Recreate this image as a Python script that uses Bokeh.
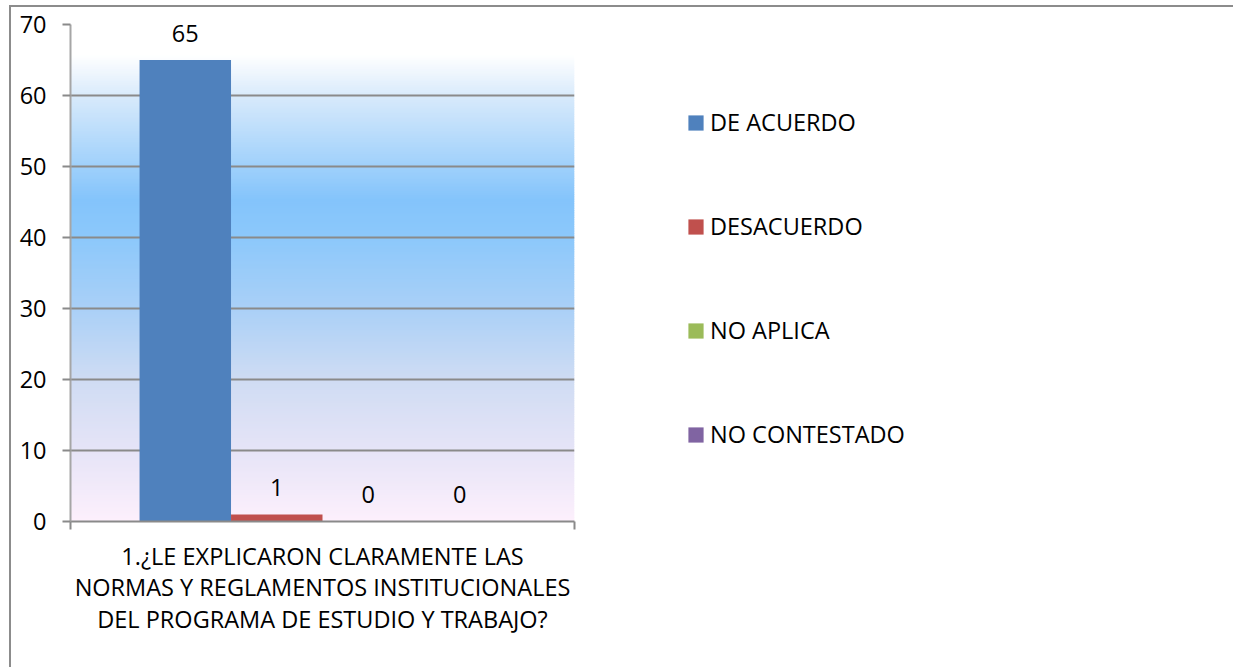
import numpy as np
from bokeh.plotting import figure
from bokeh.models import (Range1d, FixedTicker, Legend, LegendItem,
                          ColumnDataSource, LabelSet)
from bokeh.core.properties import value
from bokeh.embed import file_html
from bokeh.resources import INLINE

# ---------------- data ----------------
category_lines = ["1.¿LE EXPLICARON CLARAMENTE LAS",
                  "NORMAS Y REGLAMENTOS INSTITUCIONALES",
                  "DEL PROGRAMA DE ESTUDIO Y TRABAJO?"]
series = ["DE ACUERDO", "DESACUERDO", "NO APLICA", "NO CONTESTADO"]
values = [65, 1, 0, 0]
colors = ["#4F81BD", "#C0504D", "#9BBB59", "#8064A2"]
y_ticks = [0, 10, 20, 30, 40, 50, 60, 70]

# ---------------- style ----------------
FONT = "Open Sans"
FS = "23.5px"
GRAY = "#8a8a8a"
grad_v = [0, 9.9, 19.9, 29.9, 39.9, 45.3, 59.9, 65.7, 70]
grad_c = ["#fdf0fc", "#e6e4f7", "#cfdcf3", "#aad0f7", "#8cc8fb",
          "#84c4fb", "#d8eafb", "#ffffff", "#ffffff"]

p = figure(frame_width=504, frame_height=497, x_range=Range1d(0, 1),
           y_range=Range1d(0, y_ticks[-1]),
           output_backend="svg", toolbar_location=None,
           min_border_left=59, min_border_right=624,
           min_border_top=17, min_border_bottom=146)
p.outline_line_color = None
p.background_fill_color = "white"
p.border_fill_color = "white"
p.styles = {"border-top": "2px solid #8c8c8c", "border-left": "2px solid #8c8c8c",
            "margin-left": "9px", "margin-top": "5px"}

# gradient background (plot area fill)
def hex2rgb(h):
    return [int(h[i:i + 2], 16) for i in (1, 3, 5)]
rgb = np.array([hex2rgb(c) for c in grad_c], dtype=float)
edges = np.linspace(0, y_ticks[-1], 281)
mids = (edges[:-1] + edges[1:]) / 2
cols = []
for m in mids:
    r, g, b = (np.interp(m, grad_v, rgb[:, k]) for k in range(3))
    cols.append("#%02x%02x%02x" % (int(round(r)), int(round(g)), int(round(b))))
p.quad(left=0, right=1, bottom=edges[:-1], top=np.minimum(edges[1:] + 0.12, y_ticks[-1]),
       fill_color=cols, line_color=None, level="image")

# bars
bar_w = 0.1815
n = len(series)
xs = [0.5 + (i - (n - 1) / 2) * bar_w for i in range(n)]
src = ColumnDataSource(dict(x=xs, top=values, color=colors,
                            series=series, label=[str(v) for v in values]))
r = p.vbar(x="x", top="top", bottom=0, width=bar_w, fill_color="color",
           line_color=None, source=src)

labels = LabelSet(x="x", y="top", text="label", source=src,
                  text_align="center", text_baseline="middle", y_offset=27,
                  text_font=value(FONT), text_font_size=value(FS),
                  text_color="black")
p.add_layout(labels)

# axes
xa = p.xaxis[0]
xa.ticker = FixedTicker(ticks=[0.5], minor_ticks=[0, 1])
xa.major_label_overrides = {0.5: "\n".join(category_lines)}
xa.major_tick_line_color = None
xa.major_tick_out = 0
xa.major_tick_in = 0
xa.minor_tick_in = 0
xa.minor_tick_out = 8
xa.minor_tick_line_color = GRAY
xa.minor_tick_line_width = 2
xa.axis_line_color = GRAY
xa.axis_line_width = 2
xa.major_label_standoff = 10
xa.major_label_text_font = FONT
xa.major_label_text_font_size = FS
xa.major_label_text_color = "black"
xa.major_label_text_line_height = 0.99

ya = p.yaxis[0]
ya.ticker = FixedTicker(ticks=y_ticks, minor_ticks=[])
ya.major_tick_in = 0
ya.major_tick_out = 8
ya.major_tick_line_color = GRAY
ya.major_tick_line_width = 2
ya.axis_line_color = "#a6a6a6"
ya.axis_line_width = 2
ya.major_label_standoff = 16
ya.major_label_text_font = FONT
ya.major_label_text_font_size = FS
ya.major_label_text_color = "black"

p.xgrid.visible = False
p.ygrid.ticker = FixedTicker(ticks=y_ticks, minor_ticks=[])
p.ygrid.grid_line_color = GRAY
p.ygrid.grid_line_width = 2
p.ygrid.level = "underlay"

# legend
items = [LegendItem(label=s, renderers=[r], index=i) for i, s in enumerate(series)]
legend = Legend(items=items, location=(112, 71), orientation="vertical",
                glyph_width=19, glyph_height=19, label_standoff=5,
                spacing=72, label_height=30, padding=0, margin=0,
                border_line_color=None, background_fill_alpha=0,
                label_text_font=FONT, label_text_font_size=FS,
                label_text_color="black", label_text_baseline="middle")
p.add_layout(legend, "right")

open("out.html", "w").write(file_html(p, INLINE))
